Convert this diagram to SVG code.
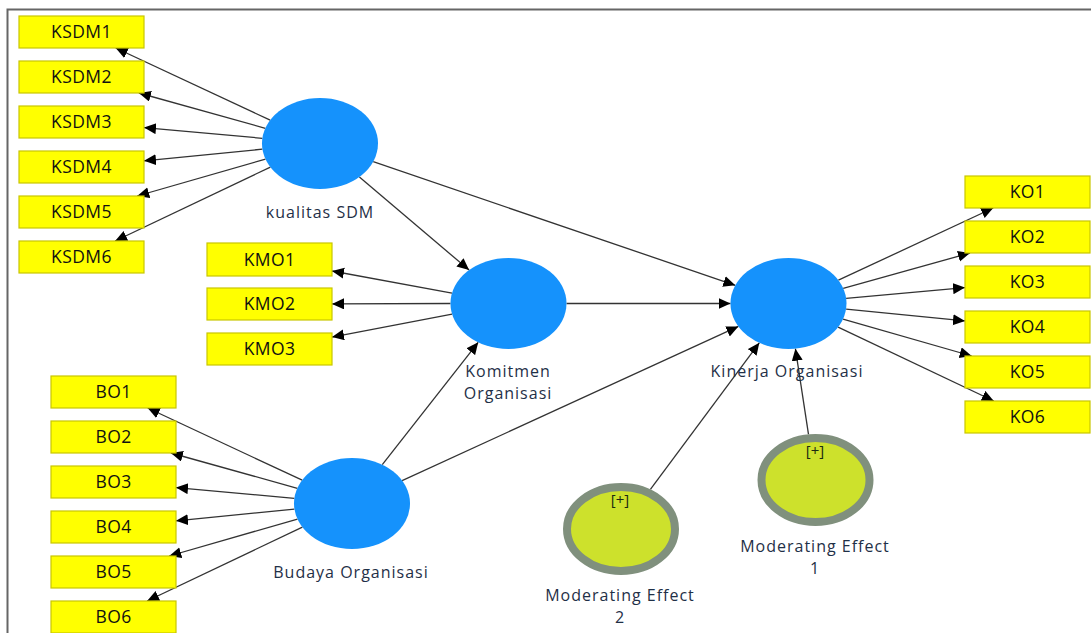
<svg xmlns="http://www.w3.org/2000/svg" width="1091" height="633" viewBox="0 0 1091 633">
<defs>
<marker id="arr" markerUnits="userSpaceOnUse" markerWidth="14" markerHeight="12" refX="12" refY="5.5" orient="auto">
<path d="M0,0 L12,5.5 L0,11 z" fill="#000"/>
</marker>
<style>
.ind rect{fill:#ffff00;stroke:#c9c600;stroke-width:1.2}
.ind text{font-family:"Open Sans","Noto Sans",sans-serif;font-size:17.5px;letter-spacing:0.4px;fill:#111;text-anchor:middle}
.lat ellipse{fill:#1592fc}
.lab{font-family:"Open Sans","Noto Sans",sans-serif;font-size:16px;letter-spacing:1px;fill:#1f3047;text-anchor:middle}
.mod ellipse{fill:#cde12c;stroke:#80907d;stroke-width:8}
.plus{font-family:"Open Sans","Noto Sans",sans-serif;font-size:15px;fill:#1c2a10;text-anchor:middle}
#edges line{stroke:#333;stroke-width:1.3;marker-end:url(#arr)}
</style>
</defs>
<rect width="1091" height="633" fill="#fff"/>
<path d="M7.5,633 V9.5 H1091" fill="none" stroke="#666" stroke-width="2"/>

<g id="edges">
<line x1="270.2" y1="120.2" x2="115.7" y2="48"/>
<line x1="265.4" y1="128.3" x2="138.9" y2="93"/>
<line x1="262.4" y1="138.3" x2="144" y2="127.6"/>
<line x1="262.4" y1="149.2" x2="144" y2="160.8"/>
<line x1="265.5" y1="159.1" x2="137.2" y2="196"/>
<line x1="270.4" y1="167.1" x2="115.1" y2="241"/>
<line x1="359.4" y1="176.9" x2="469.1" y2="270.1"/>
<line x1="373.2" y1="161.7" x2="735.3" y2="285.3"/>
<line x1="452" y1="293.1" x2="332" y2="271"/>
<line x1="450.5" y1="303.5" x2="332" y2="303.9"/>
<line x1="452.1" y1="314.2" x2="332" y2="337.1"/>
<line x1="566.5" y1="303.5" x2="730.5" y2="303.5"/>
<line x1="302.2" y1="480.2" x2="147.7" y2="408"/>
<line x1="297.4" y1="488.3" x2="170.9" y2="453"/>
<line x1="294.4" y1="498.3" x2="176" y2="487.6"/>
<line x1="294.4" y1="509.2" x2="176" y2="520.8"/>
<line x1="297.5" y1="519.1" x2="169.2" y2="556"/>
<line x1="302.4" y1="527.1" x2="147.1" y2="601"/>
<line x1="382.3" y1="464.7" x2="478.2" y2="342.3"/>
<line x1="402.1" y1="480.6" x2="738.4" y2="326.4"/>
<line x1="650.4" y1="489.4" x2="759.3" y2="342.8"/>
<line x1="808.5" y1="434.3" x2="795.4" y2="348.7"/>
<line x1="838.4" y1="280.2" x2="993.2" y2="208"/>
<line x1="843.2" y1="288.3" x2="970" y2="253"/>
<line x1="846.1" y1="298.3" x2="965" y2="287.6"/>
<line x1="846.1" y1="309.2" x2="965" y2="320.9"/>
<line x1="843" y1="319.1" x2="971.7" y2="356"/>
<line x1="838.1" y1="327.1" x2="993.8" y2="401"/>
</g>

<g id="KSDM1" class="ind"><rect x="19" y="16" width="125" height="32"/><text x="81.5" y="38">KSDM1</text></g>
<g id="KSDM2" class="ind"><rect x="19" y="61" width="125" height="32"/><text x="81.5" y="83">KSDM2</text></g>
<g id="KSDM3" class="ind"><rect x="19" y="106" width="125" height="32"/><text x="81.5" y="128">KSDM3</text></g>
<g id="KSDM4" class="ind"><rect x="19" y="151" width="125" height="32"/><text x="81.5" y="173">KSDM4</text></g>
<g id="KSDM5" class="ind"><rect x="19" y="196" width="125" height="32"/><text x="81.5" y="218">KSDM5</text></g>
<g id="KSDM6" class="ind"><rect x="19" y="241" width="125" height="32"/><text x="81.5" y="263">KSDM6</text></g>

<g id="KMO1" class="ind"><rect x="207" y="243" width="125" height="33"/><text x="269.5" y="265.5">KMO1</text></g>
<g id="KMO2" class="ind"><rect x="207" y="288" width="125" height="32"/><text x="269.5" y="310">KMO2</text></g>
<g id="KMO3" class="ind"><rect x="207" y="333" width="125" height="32"/><text x="269.5" y="355">KMO3</text></g>

<g id="BO1" class="ind"><rect x="51" y="376" width="125" height="32"/><text x="113.5" y="398">BO1</text></g>
<g id="BO2" class="ind"><rect x="51" y="421" width="125" height="32"/><text x="113.5" y="443">BO2</text></g>
<g id="BO3" class="ind"><rect x="51" y="466" width="125" height="32"/><text x="113.5" y="488">BO3</text></g>
<g id="BO4" class="ind"><rect x="51" y="511" width="125" height="32"/><text x="113.5" y="533">BO4</text></g>
<g id="BO5" class="ind"><rect x="51" y="556" width="125" height="32"/><text x="113.5" y="578">BO5</text></g>
<g id="BO6" class="ind"><rect x="51" y="601" width="125" height="32"/><text x="113.5" y="623">BO6</text></g>

<g id="KO1" class="ind"><rect x="965" y="176" width="125" height="32"/><text x="1027.5" y="198">KO1</text></g>
<g id="KO2" class="ind"><rect x="965" y="221" width="125" height="32"/><text x="1027.5" y="243">KO2</text></g>
<g id="KO3" class="ind"><rect x="965" y="266" width="125" height="32"/><text x="1027.5" y="288">KO3</text></g>
<g id="KO4" class="ind"><rect x="965" y="311" width="125" height="32"/><text x="1027.5" y="333">KO4</text></g>
<g id="KO5" class="ind"><rect x="965" y="356" width="125" height="32"/><text x="1027.5" y="378">KO5</text></g>
<g id="KO6" class="ind"><rect x="965" y="401" width="125" height="32"/><text x="1027.5" y="423">KO6</text></g>

<g id="kualitasSDM" class="lat"><ellipse cx="320" cy="143.5" rx="58" ry="45.5"/><text class="lab" x="320" y="218">kualitas SDM</text></g>
<g id="KomitmenOrganisasi" class="lat"><ellipse cx="508.5" cy="303.5" rx="58" ry="45.5"/><text class="lab" x="508" y="377">Komitmen<tspan x="508" dy="22">Organisasi</tspan></text></g>
<g id="BudayaOrganisasi" class="lat"><ellipse cx="352" cy="503.5" rx="58" ry="45.5"/><text class="lab" x="351" y="578">Budaya Organisasi</text></g>
<g id="KinerjaOrganisasi" class="lat"><ellipse cx="788.5" cy="303.5" rx="58" ry="45.5"/><text class="lab" x="787" y="377">Kinerja Organisasi</text></g>

<g id="ModeratingEffect1" class="mod"><ellipse cx="815.5" cy="480" rx="54" ry="42"/><text class="plus" x="815" y="456">[+]</text><text class="lab" x="815" y="552">Moderating Effect<tspan x="815" dy="22">1</tspan></text></g>
<g id="ModeratingEffect2" class="mod"><ellipse cx="621" cy="529" rx="54" ry="42"/><text class="plus" x="620" y="505">[+]</text><text class="lab" x="620" y="601">Moderating Effect<tspan x="620" dy="22">2</tspan></text></g>
</svg>
